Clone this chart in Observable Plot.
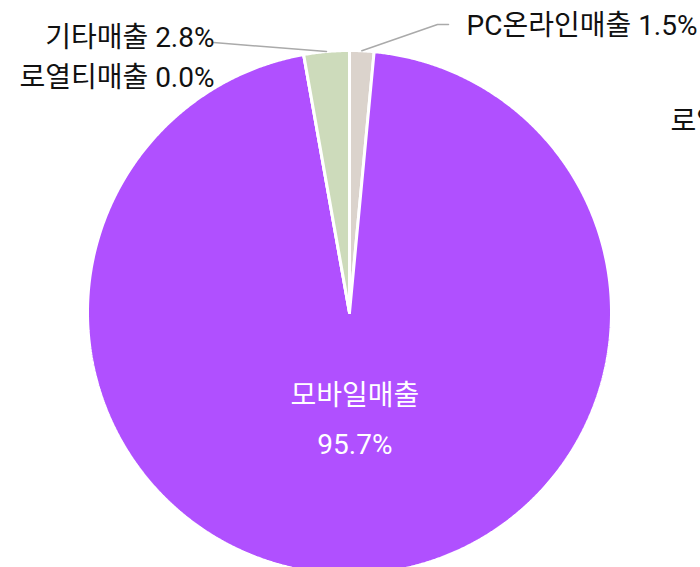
<!DOCTYPE html>
<html><head><meta charset="utf-8">
<script src="https://cdn.jsdelivr.net/npm/d3@7"></script>
<script src="https://cdn.jsdelivr.net/npm/@observablehq/plot@0.6"></script>
<style>html,body{margin:0;padding:0;background:#fff;overflow:hidden;}</style>
</head><body><div id="chart"></div>
<script>
// ---- data ----
const categories = ["PC온라인매출", "모바일매출", "로열티매출", "기타매출"];
const shares = [1.5, 95.7, 0.0, 2.8];
const colors = ["#dbd3cc", "#b050ff", "#d9d9d9", "#cddbbb"];

// ---- layout ----
const R = 262;
const data = categories.map((c, i) => ({cat: c, share: shares[i]}));
const arcs = d3.pie().sort(null).value(d => d.share)(data);

const pts = [];
arcs.forEach(a => {
  const cat = a.data.cat;
  pts.push({cat, x: 0, y: 0});
  const n = Math.max(2, Math.ceil((a.endAngle - a.startAngle) / 0.005));
  for (let k = 0; k <= n; k++) {
    const t = a.startAngle + (a.endAngle - a.startAngle) * k / n;
    pts.push({cat, x: R * Math.sin(t), y: R * Math.cos(t)});
  }
  pts.push({cat, x: 0, y: 0});
});
const mid = a => (a.startAngle + a.endAngle) / 2;
const byCat = Object.fromEntries(arcs.map(a => [a.data.cat, a]));

// leader lines
const aOther = byCat["기타매출"], aPC = byCat["PC온라인매출"], aMob = byCat["모바일매출"];
const leaders = [
  {g: "o", x: R * Math.sin(mid(aOther)), y: R * Math.cos(mid(aOther))},
  {g: "o", x: -136, y: 270},
  {g: "p", x: R * Math.sin(mid(aPC)), y: R * Math.cos(mid(aPC))},
  {g: "p", x: 88, y: 288},
  {g: "p", x: 99, y: 288}
];
const fmt = v => v.toFixed(1) + "%";
const outLabels = [
  {t: `기타매출 ${fmt(aOther.data.share)}`, x: -135, y: 274, a: "end"},
  {t: `로열티매출 ${fmt(byCat["로열티매출"].data.share)}`, x: -135, y: 234, a: "end"},
  {t: `PC온라인매출 ${fmt(aPC.data.share)}`, x: 117, y: 286, a: "start"},
  {t: `로열티매출 ${fmt(byCat["로열티매출"].data.share)}`, x: 321, y: 190, a: "start"}
];
const cx = (R / 2) * Math.sin(mid(aMob)), cy = (R / 2) * Math.cos(mid(aMob));
const inLabels = [
  {t: aMob.data.cat, x: cx, y: cy},
  {t: fmt(aMob.data.share), x: cx, y: cy}
];

const FS = 28;
const chart = Plot.plot({
  width: 700, height: 567, margin: 0,
  x: {domain: [-349, 351], axis: null},
  y: {domain: [-255, 312], axis: null},
  color: {domain: categories, range: colors},
  style: {fontFamily: "Roboto, 'Noto Sans CJK KR', sans-serif", background: "#fff"},
  marks: [
    Plot.line(pts, {x: "x", y: "y", z: "cat", fill: "cat", stroke: "white", strokeWidth: 3, strokeLinejoin: "miter"}),
    Plot.line(leaders, {x: "x", y: "y", z: "g", stroke: "#aaaaaa", strokeWidth: 1.5}),
    Plot.text(outLabels, {x: "x", y: "y", text: "t", textAnchor: "end", fontSize: FS, fill: "#111", filter: d => d.a === "end"}),
    Plot.text(outLabels, {x: "x", y: "y", text: "t", textAnchor: "start", fontSize: FS, fill: "#111", filter: d => d.a === "start"}),
    Plot.text(inLabels.slice(0, 1), {x: "x", y: "y", text: "t", dy: -47, fontSize: FS, fill: "white"}),
    Plot.text(inLabels.slice(1), {x: "x", y: "y", text: "t", dy: 2, fontSize: FS, fill: "white"})
  ]
});
document.getElementById("chart").appendChild(chart);
</script>
</body></html>
